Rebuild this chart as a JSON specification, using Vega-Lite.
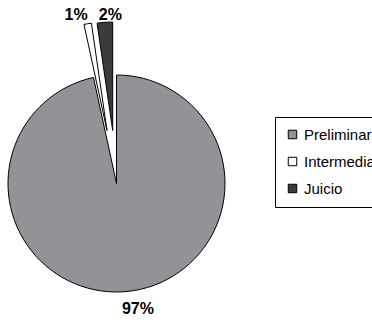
{
  "$schema": "https://vega.github.io/schema/vega-lite/v6.json",
  "autosize": {"type": "none"},
  "width": 233,
  "height": 217,
  "padding": {"left": 0, "top": 75, "right": 139, "bottom": 28},
  "background": "white",
  "data": {
    "values": [
      {"cat": "Preliminar", "value": 96.6, "label": "97%", "order": 1},
      {"cat": "Intermedia", "value": 1.1, "label": "1%", "order": 2},
      {"cat": "Juicio", "value": 2.3, "label": "2%", "order": 3}
    ]
  },
  "config": {
    "view": {"stroke": null},
    "legend": {
      "orient": "none",
      "legendX": 275,
      "legendY": 42,
      "strokeColor": "black",
      "strokeWidth": 1,
      "padding": 10,
      "symbolType": "square",
      "symbolSize": 72,
      "symbolStrokeColor": "black",
      "symbolStrokeWidth": 1,
      "labelFont": "Liberation Sans",
      "labelFontSize": 15,
      "labelColor": "black",
      "labelOffset": 4,
      "rowPadding": 11,
      "title": null
    }
  },
  "layer": [
    {
      "transform": [
        {"stack": "value", "groupby": [], "sort": [{"field": "order", "order": "ascending"}], "as": ["v0", "v1"]},
        {"filter": "datum.cat === 'Preliminar'"}
      ],
      "mark": {"type": "arc", "radius": 108.5, "stroke": "black", "strokeWidth": 1},
      "encoding": {
        "theta": {"field": "v0", "type": "quantitative", "scale": {"domain": [0, 100]}},
        "theta2": {"field": "v1"},
        "color": {"field": "cat", "type": "nominal", "scale": {"domain": ["Preliminar", "Intermedia", "Juicio"], "range": ["#919396", "#ffffff", "#3b3b3d"]}, "legend": {"title": null}}
      }
    },
    {
      "transform": [
        {"stack": "value", "groupby": [], "sort": [{"field": "order", "order": "ascending"}], "as": ["v0", "v1"]},
        {"filter": "datum.cat === 'Intermedia'"}
      ],
      "mark": {"type": "arc", "radius": 108.5, "stroke": "black", "strokeWidth": 1, "xOffset": -9.5, "yOffset": -53},
      "encoding": {
        "theta": {"field": "v0", "type": "quantitative", "scale": {"domain": [0, 100]}},
        "theta2": {"field": "v1"},
        "color": {"field": "cat", "type": "nominal"}
      }
    },
    {
      "transform": [
        {"stack": "value", "groupby": [], "sort": [{"field": "order", "order": "ascending"}], "as": ["v0", "v1"]},
        {"filter": "datum.cat === 'Juicio'"}
      ],
      "mark": {"type": "arc", "radius": 108.5, "stroke": "black", "strokeWidth": 1, "xOffset": -3.8, "yOffset": -53},
      "encoding": {
        "theta": {"field": "v0", "type": "quantitative", "scale": {"domain": [0, 100]}},
        "theta2": {"field": "v1"},
        "color": {"field": "cat", "type": "nominal"}
      }
    },
    {
      "mark": {"type": "text", "radius": 126, "dx": 8, "font": "Liberation Sans", "fontWeight": "bold", "fontSize": 16, "color": "black"},
      "encoding": {
        "theta": {"field": "value", "type": "quantitative", "stack": true, "scale": {"domain": [0, 100]}},
        "order": {"field": "order", "type": "quantitative"},
        "text": {"condition": {"test": "datum.cat === 'Preliminar'", "field": "label"}, "value": ""}
      }
    },
    {
      "mark": {"type": "text", "radius": 171, "dx": -10, "font": "Liberation Sans", "fontWeight": "bold", "fontSize": 16, "color": "black"},
      "encoding": {
        "theta": {"field": "value", "type": "quantitative", "stack": true, "scale": {"domain": [0, 100]}},
        "order": {"field": "order", "type": "quantitative"},
        "text": {"condition": {"test": "datum.cat === 'Intermedia'", "field": "label"}, "value": ""}
      }
    },
    {
      "mark": {"type": "text", "radius": 169, "dx": 6, "font": "Liberation Sans", "fontWeight": "bold", "fontSize": 16, "color": "black"},
      "encoding": {
        "theta": {"field": "value", "type": "quantitative", "stack": true, "scale": {"domain": [0, 100]}},
        "order": {"field": "order", "type": "quantitative"},
        "text": {"condition": {"test": "datum.cat === 'Juicio'", "field": "label"}, "value": ""}
      }
    }
  ]
}
